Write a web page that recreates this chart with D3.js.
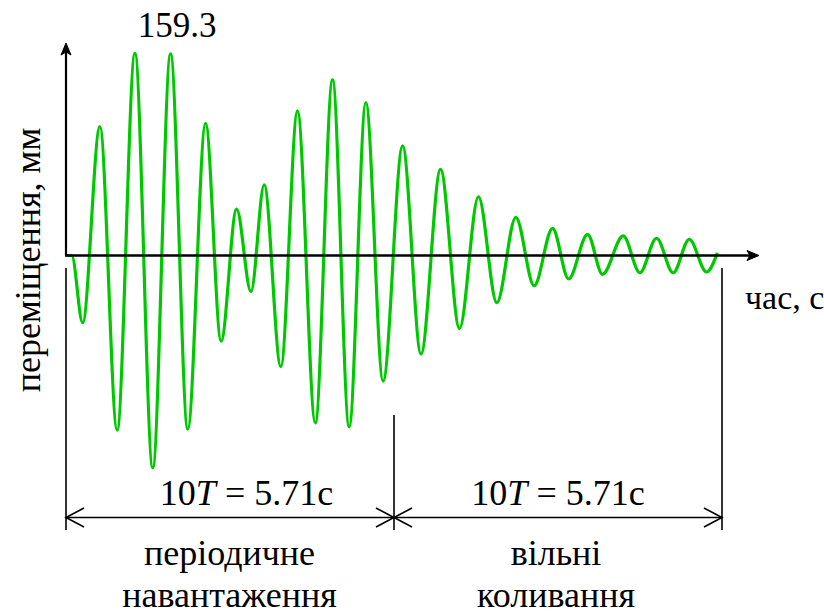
<!DOCTYPE html>
<html>
<head>
<meta charset="utf-8">
<script src="https://cdn.jsdelivr.net/npm/d3@7"></script>
<style>
  body { margin: 0; background: #fff; }
</style>
</head>
<body>
<div id="chart"></div>
<script>
// extrema of the displacement record
var times = [0, 0.10, 0.29, 0.59, 0.89, 1.20, 1.51, 1.82, 2.12, 2.43, 2.70, 2.97, 3.22, 3.45,
             3.74, 4.03, 4.34, 4.64, 4.93, 5.22, 5.52, 5.86, 6.18, 6.52, 6.85, 7.18, 7.50,
             7.83, 8.15, 8.47, 8.75, 9.08, 9.34, 9.70, 9.99, 10.28, 10.57, 10.85, 11.15, 11.34];
var disp = [0, 0, -53.0, 101.5, -137.5, 159.3, -167.2, 158.8, -136.7, 104.2, -67.4, 36.6, -28.4, 55.6,
            -87.6, 113.9, -131.8, 138.3, -134.9, 120.4, -98.9, 86.3, -77.6, 67.9, -57.4, 46.3, -37.2,
            30.1, -23.8, 21.4, -18.5, 16.7, -14.8, 15.4, -13.6, 13.6, -13.6, 12.8, -13.0, 2.2];

var period10 = 5.71;              // 10T, s
var marks = [0, 5.71, 11.42];     // dimension line stops
var maxLabel = "159.3";

var FONT = "'Liberation Serif', Tinos, 'Times New Roman'";
var W = 824, H = 615;
var svg = d3.select("#chart").append("svg")
    .attr("width", W).attr("height", H)
    .attr("font-family", FONT);

var x = d3.scaleLinear().domain([0, 11.42]).range([66, 722]);
var y = d3.scaleLinear().domain([0, 159.3]).range([255.5, 53.3]);

var pts = times.map(function(t, i) { return [t, disp[i]]; });

// signal
var line = d3.line()
    .x(function(d) { return x(d[0]); })
    .y(function(d) { return y(d[1]); })
    .curve(d3.curveMonotoneX);

svg.append("path")
    .datum(pts)
    .attr("d", line)
    .attr("fill", "none")
    .attr("stroke", "#00c800")
    .attr("stroke-width", 3.2)
    .attr("stroke-linejoin", "round");

// axes
var x0 = x(0), y0 = y(0);
svg.append("line")
    .attr("x1", x0 - 1).attr("y1", y0).attr("x2", 752).attr("y2", y0)
    .attr("stroke", "#000").attr("stroke-width", 2.5);
svg.append("path")
    .attr("d", "M759," + y0 + " L747," + (y0 - 5) + " L750," + y0 + " L747," + (y0 + 5) + "Z")
    .attr("fill", "#000").attr("stroke", "#000").attr("stroke-width", 1);

svg.append("line")
    .attr("x1", x0).attr("y1", y0).attr("x2", x0).attr("y2", 50)
    .attr("stroke", "#000").attr("stroke-width", 2.2);
svg.append("path")
    .attr("d", "M" + x0 + ",43 L" + (x0 - 5) + ",55 L" + x0 + ",52 L" + (x0 + 5) + ",55Z")
    .attr("fill", "#000").attr("stroke", "#000").attr("stroke-width", 1);

// labels
svg.append("text")
    .attr("transform", "translate(40,260) rotate(-90)")
    .attr("text-anchor", "middle")
    .attr("font-size", 36)
    .text("переміщення, мм");

svg.append("text")
    .attr("x", 745).attr("y", 309)
    .attr("font-size", 34)
    .text("час, с");

svg.append("text")
    .attr("x", 177).attr("y", 37)
    .attr("text-anchor", "middle")
    .attr("font-size", 35)
    .text(maxLabel);

// dimension lines
var dimY = 517.5;
var dims = svg.append("g").attr("stroke", "#000").attr("stroke-width", 1.6).attr("fill", "none");
dims.append("line").attr("x1", x(marks[0])).attr("x2", x(marks[0])).attr("y1", 268).attr("y2", 530);
dims.append("line").attr("x1", x(marks[1])).attr("x2", x(marks[1])).attr("y1", 415).attr("y2", 530);
dims.append("line").attr("x1", x(marks[2])).attr("x2", x(marks[2])).attr("y1", 268).attr("y2", 530);
dims.append("line").attr("x1", x(marks[0])).attr("x2", x(marks[2])).attr("y1", dimY).attr("y2", dimY);

function arrow(tx, dir) {
  dims.append("path")
    .attr("d", "M" + (tx + dir * 18) + "," + (dimY - 9.5) + " L" + tx + "," + dimY +
               " L" + (tx + dir * 18) + "," + (dimY + 9.5));
}
arrow(x(marks[0]), 1);
arrow(x(marks[1]), -1);
arrow(x(marks[1]), 1);
arrow(x(marks[2]), -1);

function dimText(cx) {
  var t = svg.append("text")
      .attr("x", cx).attr("y", 505)
      .attr("text-anchor", "middle")
      .attr("font-size", 36);
  t.append("tspan").text("10");
  t.append("tspan").attr("font-style", "italic").text("T");
  t.append("tspan").text(" = " + period10 + "c");
}
dimText(246.5);
dimText(558);

var captions = [["періодичне", "навантаження", 229.5], ["вільні", "коливання", 556]];
captions.forEach(function(c) {
  svg.append("text").attr("x", c[2]).attr("y", 565)
      .attr("text-anchor", "middle").attr("font-size", 36).text(c[0]);
  svg.append("text").attr("x", c[2]).attr("y", 607)
      .attr("text-anchor", "middle").attr("font-size", 36).text(c[1]);
});
</script>
</body>
</html>
